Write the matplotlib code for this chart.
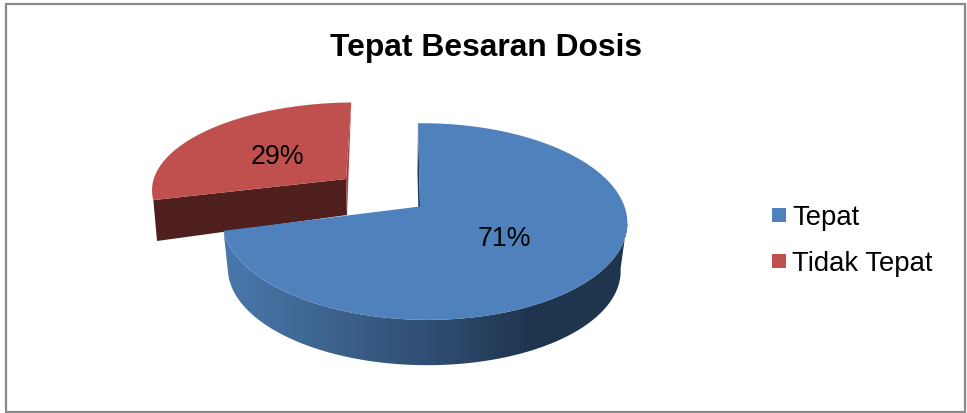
import numpy as np
import matplotlib
matplotlib.use('Agg')
import matplotlib.pyplot as plt
from matplotlib.colors import LinearSegmentedColormap
from matplotlib.patches import Polygon, Rectangle

plt.rcParams['font.family'] = ['Liberation Sans', 'DejaVu Sans']

title = 'Tepat Besaran Dosis'
categories = ['Tepat', 'Tidak Tepat']
values = [71, 29]
colors = ['#4f81bd', '#c0504d']


# fake 3D: circle in the pie plane seen through a simple perspective
def project(t, cx, cy, rx, ry, k, m, skew):
    u, v = np.cos(t), np.sin(t)
    w = 1 + k * v + m * u
    return np.column_stack([cx + (rx * u + skew * v) / w, cy - ry * v / w])


def rim(a0, a1, geom, n=200):
    return project(np.radians(np.linspace(a0, a1, n)), *geom)


fig = plt.figure(figsize=(9.67, 4.14), dpi=100)
ax = fig.add_axes([0, 0, 1, 1])
ax.set_xlim(0, 967)
ax.set_ylim(414, 0)
ax.axis('off')

ax.add_patch(Rectangle((6, 5), 959, 408, fill=False, ec='#8a8a8a', lw=1.6))

# slice angles, first slice starts at 12 o'clock going clockwise
split = 90 - 360 * values[0] / sum(values) + 360  # 194.4 deg

blue_top = (420, 207.5, 200, 96, 0.153, -0.022, -2.3)
blue_low = (419.5, 256, 194, 93.3, 0.153, -0.022, -2.3)
red_top = (346, 180, 196.5, 84.5, 0.104, -0.022, 5.8)
red_low_apex = (347, 216)
red_low_left = (157, 242)

# red slice: cut faces then top
red_edge = rim(90, split, red_top)
ax.add_patch(Polygon([red_edge[-1], red_top[:2], red_low_apex, red_low_left],
                     fc='#4e1f1c', ec='none', zorder=2))
ax.add_patch(Polygon([red_edge[0], red_top[:2], red_low_apex],
                     fc='#a34441', ec='none', zorder=2))
ax.add_patch(Polygon(np.vstack([[red_top[:2]], red_edge]), fc=colors[1], ec='none', zorder=3))

# blue slice: inner cut sliver, outer wall with gradient, then top
ax.add_patch(Polygon(np.vstack([rim(90, 90, blue_top, 1), [blue_top[:2]], [blue_low[:2]],
                                rim(90, 90, blue_low, 1)]),
                     fc='#1f344e', ec='none', zorder=4))

wall = np.vstack([rim(split, 352, blue_top), rim(352, split - 4, blue_low)])
wall_patch = Polygon(wall, transform=ax.transData, fc='none', ec='none')
ax.add_patch(wall_patch)
shade = LinearSegmentedColormap.from_list(
    'shade', [(0, '#4a78ad'), (0.25, '#3d648f'), (0.55, '#2d4a6d'), (0.75, '#20364f'), (1, '#1f344d')])
im = ax.imshow(np.linspace(0, 1, 256).reshape(1, -1), cmap=shade, aspect='auto',
               extent=(223, 630, 370, 225), zorder=5)
im.set_clip_path(wall_patch)
# imshow resets the limits
ax.set_xlim(0, 967)
ax.set_ylim(414, 0)

blue_edge = rim(split, 450, blue_top, 400)
ax.add_patch(Polygon(np.vstack([[blue_top[:2]], blue_edge]), fc=colors[0], ec='none', zorder=6))

# percent labels
ax.text(277, 157, f'{values[1]}%', fontsize=19.3, ha='center', va='center', zorder=7)
ax.text(504, 239, f'{values[0]}%', fontsize=19.3, ha='center', va='center', zorder=7)

ax.text(486, 48, title, fontsize=22.9, fontweight='bold', ha='center', va='center')

# legend
for i, (name, col) in enumerate(zip(categories, colors)):
    y = 216 + 46 * i
    ax.add_patch(Rectangle((772, y - 7), 14, 14, fc=col, ec='none'))
    ax.text(792, y + 2, name, fontsize=19.8, ha='left', va='center')

fig.savefig('out.png', dpi=100)
